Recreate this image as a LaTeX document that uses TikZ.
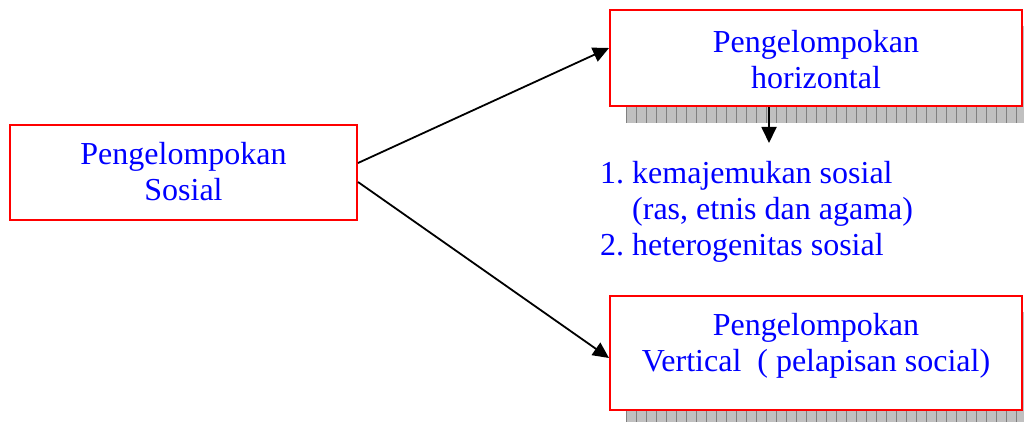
\documentclass[tikz,border=0pt]{standalone}
\usepackage{fontspec}
\setmainfont{Liberation Serif}
\frenchspacing
\usetikzlibrary{arrows.meta}
\definecolor{shadefill}{RGB}{192,192,192}
\definecolor{shadeline}{RGB}{128,128,128}
\tikzset{
  box/.style={draw=red, line width=2pt, fill=white, inner sep=0pt},
  lbl/.style={text=blue, font=\fontsize{32}{36.5}\selectfont, align=center, inner sep=0pt, anchor=north},
  listtext/.style={text=blue, font=\fontsize{32}{36}\selectfont\frenchspacing, align=left, inner sep=0pt, anchor=north west},
  conn/.style={line width=1.8pt, -{Triangle[length=16pt,width=15pt]}},
  shadowgrid/.style={draw=shadeline, line width=0.8pt}
}
\begin{document}
\begin{tikzpicture}[x=1pt,y=-1pt]
\clip (0,0) rectangle (1024,422);
\fill[white] (0,0) rectangle (1024,422);
% shadows
\begin{scope}
  \clip (626,26) rectangle (1040,123);
  \fill[shadefill] (626,26) rectangle (1040,123);
  \begin{scope}[shift={(6,7)}]
    \draw[shadowgrid] (610,10) grid[step=10] (1040,130);
  \end{scope}
\end{scope}
\begin{scope}
  \clip (626,312) rectangle (1040,430);
  \fill[shadefill] (626,312) rectangle (1040,430);
  \begin{scope}[shift={(6,1)}]
    \draw[shadowgrid] (610,300) grid[step=10] (1040,440);
  \end{scope}
\end{scope}
% boxes
\node[box, minimum width=347pt, minimum height=95pt] (sos) at (183.5,172.5) {};
\node[box, minimum width=412pt, minimum height=96pt] (hor) at (816,58) {};
\node[box, minimum width=412pt, minimum height=114pt] (ver) at (816,353) {};
% texts
\node[lbl] (sostext) at (183.5,142) {Pengelompokan\\Sosial};
\node[lbl] (hortext) at (816,30) {Pengelompokan\\horizontal};
\node[lbl] (vertext) at (816,313) {Pengelompokan\\Vertical\ \ ( pelapisan social)};
\node[listtext] (list) at (600,161) {1. kemajemukan sosial\\\phantom{1. }(ras, etnis dan agama)\\2. heterogenitas sosial};
% connectors
\draw[conn] ([yshift=9.5pt]sos.east) -- ([yshift=10pt]hor.west);
\draw[conn] ([yshift=-9.5pt]sos.east) -- ([yshift=-5pt]ver.west);
\coordinate (dn) at (769,143);
\draw[conn] (hor.south -| dn) -- (dn);
\end{tikzpicture}
\end{document}
